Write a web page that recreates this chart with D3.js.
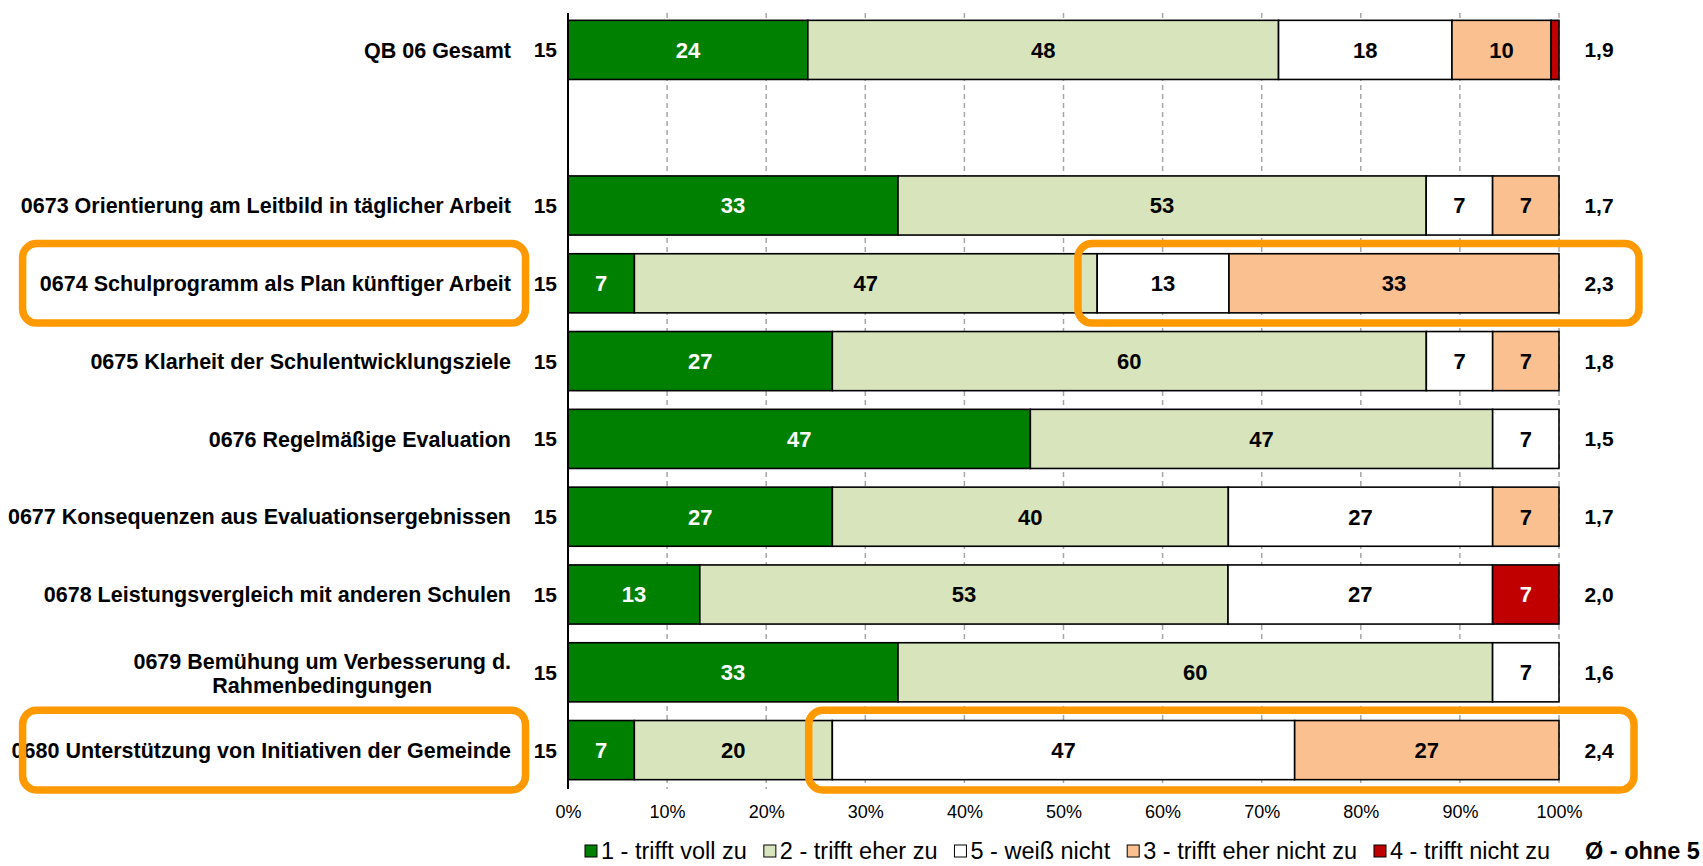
<!DOCTYPE html>
<html>
<head>
<meta charset="utf-8">
<script src="https://cdn.jsdelivr.net/npm/d3@7"></script>
<style>
  html, body { margin: 0; padding: 0; background: #fff; }
  svg { display: block; font-family: "Liberation Sans", Arial, sans-serif; }
</style>
</head>
<body>
<svg id="chart" width="1703" height="866"></svg>
<script>
// Rows of the questionnaire block (one blank spacer row after the total)
const rowLabels = [
  "QB 06 Gesamt",
  "",
  "0673 Orientierung am Leitbild in täglicher Arbeit",
  "0674 Schulprogramm als Plan künftiger Arbeit",
  "0675 Klarheit der Schulentwicklungsziele",
  "0676 Regelmäßige Evaluation",
  "0677 Konsequenzen aus Evaluationsergebnissen",
  "0678 Leistungsvergleich mit anderen Schulen",
  "0679 Bemühung um Verbesserung d.|Rahmenbedingungen",
  "0680 Unterstützung von Initiativen der Gemeinde"
];
const respondents = [15, null, 15, 15, 15, 15, 15, 15, 15, 15];
const meanScores  = ["1,9", "", "1,7", "2,3", "1,8", "1,5", "1,7", "2,0", "1,6", "2,4"];

// Answer shares in percent, in stacking order
const votesFull      = [24.2, 0, 33.3,  6.7, 26.7, 46.7, 26.7, 13.3, 33.3,  6.7]; // 1 - trifft voll zu
const votesRather    = [47.5, 0, 53.3, 46.7, 60.0, 46.7, 40.0, 53.3, 60.0, 20.0]; // 2 - trifft eher zu
const votesUnknown   = [17.5, 0,  6.7, 13.3,  6.7,  6.7, 26.7, 26.7,  6.7, 46.7]; // 5 - weiß nicht
const votesRatherNot = [10.0, 0,  6.7, 33.3,  6.7,  0.0,  6.7,  0.0,  0.0, 26.7]; // 3 - trifft eher nicht zu
const votesNot       = [ 0.8, 0,  0.0,  0.0,  0.0,  0.0,  0.0,  6.7,  0.0,  0.0]; // 4 - trifft nicht zu

const seriesNames = [
  "1 - trifft voll zu",
  "2 - trifft eher zu",
  "5 - weiß nicht",
  "3 - trifft eher nicht zu",
  "4 - trifft nicht zu"
];
const seriesColors = ["#008000", "#D8E4BC", "#FFFFFF", "#FAC090", "#C00000"];
const labelColors  = ["#FFFFFF", "#000000", "#000000", "#000000", "#FFFFFF"];
const xTicks = [0, 0.1, 0.2, 0.3, 0.4, 0.5, 0.6, 0.7, 0.8, 0.9, 1.0];
const meanTitle = "Ø - ohne 5";

// Highlight frames: rows marked, label side and bar side (bar side in axis units)
const labelFrames = ["0674 Schulprogramm als Plan künftiger Arbeit",
                     "0680 Unterstützung von Initiativen der Gemeinde"];
const barFrames = [
  { row: "0674 Schulprogramm als Plan künftiger Arbeit", from: 0.5146, to: 1.0807 },
  { row: "0680 Unterstützung von Initiativen der Gemeinde", from: 0.2429, to: 1.0757 }
];

const seriesArrays = [votesFull, votesRather, votesUnknown, votesRatherNot, votesNot];
const table = rowLabels.map((label, i) => {
  const row = { label, n: respondents[i], mean: meanScores[i] };
  seriesNames.forEach((s, k) => row[s] = seriesArrays[k][i]);
  return row;
});

const svg = d3.select("#chart");
const plotLeft = 568, plotRight = 1559, plotTop = 11, plotBottom = 789;

const x = d3.scaleLinear().domain([0, 1]).range([plotLeft, plotRight]);
const y = d3.scaleBand()
  .domain(rowLabels)
  .range([plotTop, plotBottom])
  .paddingInner(0.24)
  .paddingOuter(0.12);

// 100 % stacked rows
const stacked = d3.stack().keys(seriesNames).offset(d3.stackOffsetExpand)(table);

// dashed vertical gridlines
svg.append("g")
  .selectAll("line")
  .data(xTicks.filter(t => t > 0))
  .join("line")
  .attr("x1", d => x(d)).attr("x2", d => x(d))
  .attr("y1", plotTop + 2).attr("y2", plotBottom)
  .attr("stroke", "#A6A6A6")
  .attr("stroke-width", 1.5)
  .attr("stroke-dasharray", "5,4");

// bar segments
const layers = svg.append("g").selectAll("g")
  .data(stacked)
  .join("g")
  .attr("fill", (d, i) => seriesColors[i]);

layers.selectAll("rect")
  .data(d => d.filter(p => !isNaN(p[1]) && p[1] - p[0] > 0))
  .join("rect")
  .attr("x", p => x(p[0]))
  .attr("y", p => y(p.data.label))
  .attr("width", p => x(p[1]) - x(p[0]))
  .attr("height", y.bandwidth())
  .attr("stroke", "#000")
  .attr("stroke-width", 1.6);

// segment value labels (rounded percentages)
const fmt = d3.format(".0f");
const valueLabels = svg.append("g")
  .attr("font-size", 22)
  .attr("font-weight", "bold")
  .attr("text-anchor", "middle");

stacked.forEach((layer, i) => {
  valueLabels.selectAll(null)
    .data(layer.filter(p => !isNaN(p[1]) && p.data[seriesNames[i]] >= 3))
    .join("text")
    .attr("x", p => (x(p[0]) + x(p[1])) / 2)
    .attr("y", p => y(p.data.label) + y.bandwidth() / 2)
    .attr("dy", "0.36em")
    .attr("fill", labelColors[i])
    .text(p => fmt(p.data[seriesNames[i]]));
});

// value axis line
svg.append("line")
  .attr("x1", plotLeft).attr("x2", plotLeft)
  .attr("y1", plotTop + 2).attr("y2", plotBottom)
  .attr("stroke", "#000").attr("stroke-width", 2);

// percentage tick labels
const xAxis = d3.axisBottom(x).tickValues(xTicks).tickFormat(d3.format(".0%")).tickSize(0).tickPadding(0);
const axisG = svg.append("g").attr("transform", `translate(0,${plotBottom + 16})`).call(xAxis);
axisG.select(".domain").remove();
axisG.selectAll("text")
  .attr("font-size", 18)
  .attr("font-family", "Liberation Sans, Arial, sans-serif")
  .attr("fill", "#000");

// category labels (multi-line where split with |)
const catG = svg.append("g")
  .attr("font-size", 21.5)
  .attr("font-weight", "bold")
  .attr("fill", "#000");

table.forEach(r => {
  if (!r.label) return;
  const cy = y(r.label) + y.bandwidth() / 2;
  const lines = r.label.split("|");
  if (lines.length === 1) {
    catG.append("text")
      .attr("x", 511).attr("y", cy).attr("dy", "0.36em")
      .attr("text-anchor", "end")
      .text(lines[0]);
  } else {
    const t = catG.append("text").attr("text-anchor", "middle");
    const first = t.append("tspan").attr("y", cy - 11).attr("dy", "0.36em").text(lines[0]);
    const w = first.node().getComputedTextLength();
    const cx = 511 - w / 2;
    first.attr("x", cx);
    lines.slice(1).forEach((ln, j) => {
      t.append("tspan").attr("x", cx).attr("y", cy + 13 + 24 * j).attr("dy", "0.36em").text(ln);
    });
  }
});

// respondents and mean columns
const colG = svg.append("g").attr("font-size", 21).attr("font-weight", "bold").attr("fill", "#000");
colG.selectAll(".n")
  .data(table.filter(r => r.n != null))
  .join("text")
  .attr("class", "n")
  .attr("x", 557)
  .attr("y", r => y(r.label) + y.bandwidth() / 2)
  .attr("dy", "0.36em")
  .attr("text-anchor", "end")
  .text(r => r.n);

colG.selectAll(".mean")
  .data(table.filter(r => r.mean))
  .join("text")
  .attr("class", "mean")
  .attr("x", 1599)
  .attr("y", r => y(r.label) + y.bandwidth() / 2)
  .attr("dy", "0.36em")
  .attr("text-anchor", "middle")
  .text(r => r.mean);

// orange highlight frames
const frameG = svg.append("g")
  .attr("fill", "none")
  .attr("stroke", "#FF9900")
  .attr("stroke-width", 7.5);

const frameHalf = 39.8;
labelFrames.forEach(row => {
  const cy = y(row) + y.bandwidth() / 2;
  frameG.append("rect")
    .attr("x", 22.6).attr("y", cy - frameHalf)
    .attr("width", 525.5 - 22.6).attr("height", frameHalf * 2)
    .attr("rx", 14).attr("ry", 14);
});
barFrames.forEach(f => {
  const cy = y(f.row) + y.bandwidth() / 2;
  frameG.append("rect")
    .attr("x", x(f.from)).attr("y", cy - frameHalf)
    .attr("width", x(f.to) - x(f.from)).attr("height", frameHalf * 2)
    .attr("rx", 14).attr("ry", 14);
});

// legend
const legendG = svg.append("g").attr("font-size", 23.5).attr("fill", "#000");
let lx = 585;
const ly = 851;
seriesNames.forEach((name, i) => {
  legendG.append("rect")
    .attr("x", lx).attr("y", ly - 6)
    .attr("width", 12).attr("height", 12)
    .attr("fill", seriesColors[i])
    .attr("stroke", "#000").attr("stroke-width", 1);
  const t = legendG.append("text")
    .attr("x", lx + 16).attr("y", ly).attr("dy", "0.36em")
    .text(name);
  lx += 16 + t.node().getComputedTextLength() + 17;
});
legendG.append("text")
  .attr("x", 1585).attr("y", ly).attr("dy", "0.36em")
  .attr("font-weight", "bold")
  .text(meanTitle);
</script>
</body>
</html>
